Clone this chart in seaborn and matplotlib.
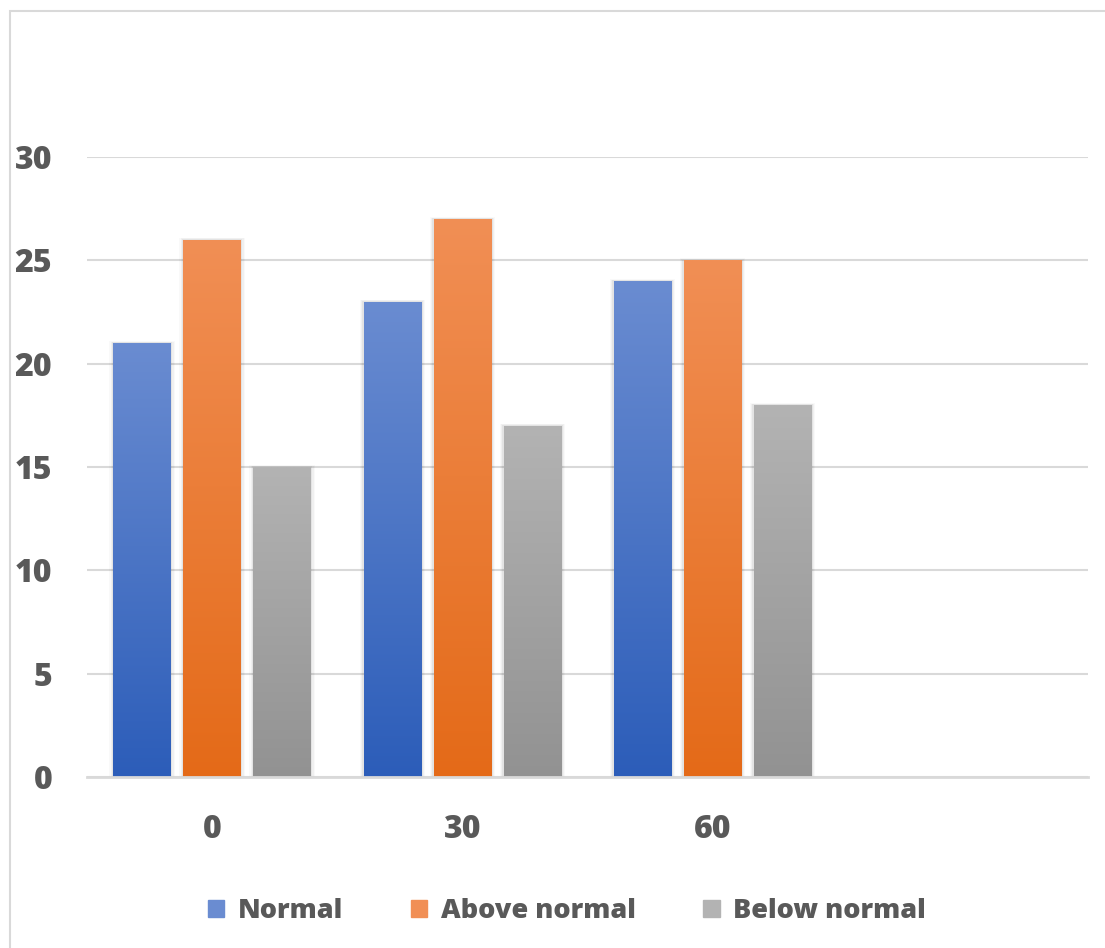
import numpy as np
import pandas as pd
import seaborn as sns
import matplotlib.pyplot as plt
from matplotlib.patches import Rectangle
from matplotlib.colors import LinearSegmentedColormap, to_hex

# datos
categorias = ["0", "30", "60"]
series = ["Normal", "Above normal", "Below normal"]
normal = [21, 23, 24]
above_normal = [26, 27, 25]
below_normal = [15, 17, 18]

df = pd.DataFrame({
    "Tiempo": categorias * 3,
    "Grupo": [s for s in series for _ in categorias],
    "Valor": normal + above_normal + below_normal,
})

colores = {"Normal": "#4472C4", "Above normal": "#ED7D31", "Below normal": "#A5A5A5"}
# degradado (arriba, abajo)
degradados = {
    "Normal": ("#6A8CD1", "#2C5DB9"),
    "Above normal": ("#F18F55", "#E46A18"),
    "Below normal": ("#B3B3B3", "#929292"),
}
gris_texto = "#595959"
gris_linea = "#D9D9D9"

sns.set_theme(style="white")
plt.rcParams['font.family'] = ['Open Sans', 'DejaVu Sans']

W, H = 1105, 948
fig = plt.figure(figsize=(W / 100, H / 100), dpi=100)
ax = fig.add_axes([87 / W, 1 - 777 / H, (1088 - 87) / W, (777 - 157) / H])

sns.barplot(
    data=df, x="Tiempo", y="Valor", hue="Grupo",
    hue_order=series, palette=colores, saturation=1, linewidth=0,
    width=0.84, gap=0.18, errorbar=None, legend=False, ax=ax,
)

# degradado dentro de cada barra
grad = np.linspace(0, 1, 256).reshape(-1, 1)
hex_a_serie = {to_hex(c): s for s, c in colores.items()}
for p in list(ax.patches):
    serie = hex_a_serie.get(to_hex(p.get_facecolor()))
    if serie is None:
        continue
    x, y0 = p.get_x(), p.get_y()
    w, h = p.get_width(), p.get_height()
    cmap = LinearSegmentedColormap.from_list(serie, [degradados[serie][1], degradados[serie][0]])
    # sombra suave
    for k, a in [(0.016, 0.025), (0.011, 0.035), (0.006, 0.05)]:
        ax.add_patch(Rectangle((x - k, y0), w + 2 * k, h + k * 6, color="black",
                               alpha=a, lw=0, zorder=1.5))
    im = ax.imshow(grad, extent=[x, x + w, y0, y0 + h], origin="lower",
                   aspect="auto", cmap=cmap, zorder=2)
    im.set_clip_path(p)
    p.set_zorder(2)

ax.set_xlim(-0.5, 3.5)
ax.set_ylim(0, 30)
ax.set_yticks([0, 5, 10, 15, 20, 25, 30])
ax.set_xticks([0, 1, 2])
ax.set_xticklabels(categorias)

ax.yaxis.grid(True, color=gris_linea, lw=1.5)
ax.set_axisbelow(True)
for lado in ["top", "right", "left"]:
    ax.spines[lado].set_visible(False)
ax.spines["bottom"].set_color(gris_linea)
ax.spines["bottom"].set_linewidth(2)
ax.spines["bottom"].set_zorder(3)

ax.tick_params(axis="y", length=0, pad=25, labelsize=23, labelcolor=gris_texto)
ax.tick_params(axis="x", length=0, pad=27, labelsize=23, labelcolor=gris_texto)
for t in ax.get_xticklabels() + ax.get_yticklabels():
    t.set_fontweight("heavy")
ax.set_xlabel("")
ax.set_ylabel("")

# leyenda
handles = [Rectangle((0, 0), 1, 1, color=degradados[s][0]) for s in series]
fig.legend(handles, series, loc="center", bbox_to_anchor=(567 / W, 1 - 911 / H),
           ncol=3, frameon=False, handlelength=0.6, handleheight=0.6,
           handletextpad=0.5, columnspacing=2.5,
           prop={"size": 19.5, "weight": "heavy"}, labelcolor=gris_texto)

# borde del grafico
fig.add_artist(Rectangle((10 / W, -0.05), 1.2, 1 - 11 / H + 0.05,
                         transform=fig.transFigure, fill=False,
                         edgecolor=gris_linea, lw=1.5))

fig.savefig("out.png", dpi=100)
plt.close()
print("Grafico guardado como out.png")
